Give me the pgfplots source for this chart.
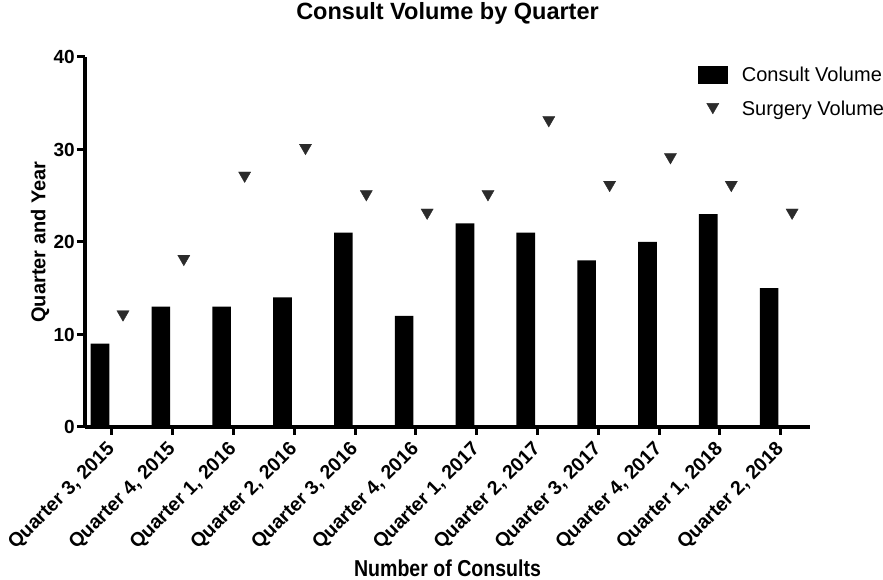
\documentclass[border=0pt]{standalone}
\usepackage{fontspec}
\setmainfont{Liberation Sans}
\usepackage{pgfplots}
\pgfplotsset{compat=1.18}
\definecolor{mk}{HTML}{2B2B2B}
\begin{document}
\begin{tikzpicture}
\begin{axis}[
  name=ax, at={(0pt,0pt)}, anchor=south west,
  scale only axis, width=725pt, height=370pt,
  xmin=-0.439, xmax=11.48, ymin=0, ymax=40,
  axis x line*=bottom, axis y line*=left,
  axis line style={line width=3.5pt, black},
  xtick={0,...,11},
  xticklabels={{Quarter 3, 2015},{Quarter 4, 2015},{Quarter 1, 2016},{Quarter 2, 2016},{Quarter 3, 2016},{Quarter 4, 2016},{Quarter 1, 2017},{Quarter 2, 2017},{Quarter 3, 2017},{Quarter 4, 2017},{Quarter 1, 2018},{Quarter 2, 2018}},
  ytick={0,10,20,30,40},
  tick style={line width=3pt, black},
  major tick length=8pt, tick align=outside,
  /pgf/number format/assume math mode=true,
  x tick label style={yshift=-11pt, xshift=1pt, rotate=45, anchor=east, font=\fontsize{19.5}{23}\selectfont\bfseries, inner sep=1pt},
  y tick label style={font=\fontsize{19}{22}\selectfont\bfseries, inner sep=2pt},
  title={Consult Volume by Quarter},
  title style={at={(0.5,1)}, anchor=base, yshift=31pt, font=\fontsize{23.5}{27}\selectfont\bfseries},
  ylabel={Quarter and Year},
  ylabel style={at={(-0.0621,0.5)}, anchor=center, font=\fontsize{20}{24}\selectfont\bfseries},
  xlabel={\scalebox{0.85}[1]{Number of Consults}},
  xlabel style={at={(0.5,-0.382)}, anchor=center, font=\fontsize{23}{27}\selectfont\bfseries},
  legend style={at={(0.845,0.98)}, anchor=north west, draw=none, fill=none,
    font=\fontsize{20}{24}\selectfont, row sep=14pt, inner sep=0pt,
    nodes={inner xsep=6pt},
    /tikz/every odd column/.append style={column sep=8pt}},
  legend cell align=left,
]
\addplot[ybar, bar width=18.6pt, bar shift=-11.7pt, fill=black, draw=none,
  legend image code/.code={\fill[black] (0pt,-9pt) rectangle (30pt,9pt);}]
  coordinates {(0,9) (1,13) (2,13) (3,14) (4,21) (5,12) (6,22) (7,21) (8,18) (9,20) (10,23) (11,15)};
\addlegendentry{Consult Volume}
\addplot[only marks, mark=triangle*, mark size=7pt, color=mk,
  mark options={xshift=11.3pt, yshift=1.75pt, rotate=180, fill=mk, draw=mk},
  legend image code/.code={\draw[mark repeat=2,mark phase=2] plot coordinates {(-7.3pt,0pt)(3.7pt,0pt)(14.7pt,0pt)};}]
  coordinates {(0,12) (1,18) (2,27) (3,30) (4,25) (5,23) (6,25) (7,33) (8,26) (9,29) (10,26) (11,23)};
\addlegendentry{Surgery Volume}
\end{axis}
\pgfresetboundingbox
\path (-85pt,-153pt) rectangle (798pt,427pt);
\end{tikzpicture}
\end{document}
